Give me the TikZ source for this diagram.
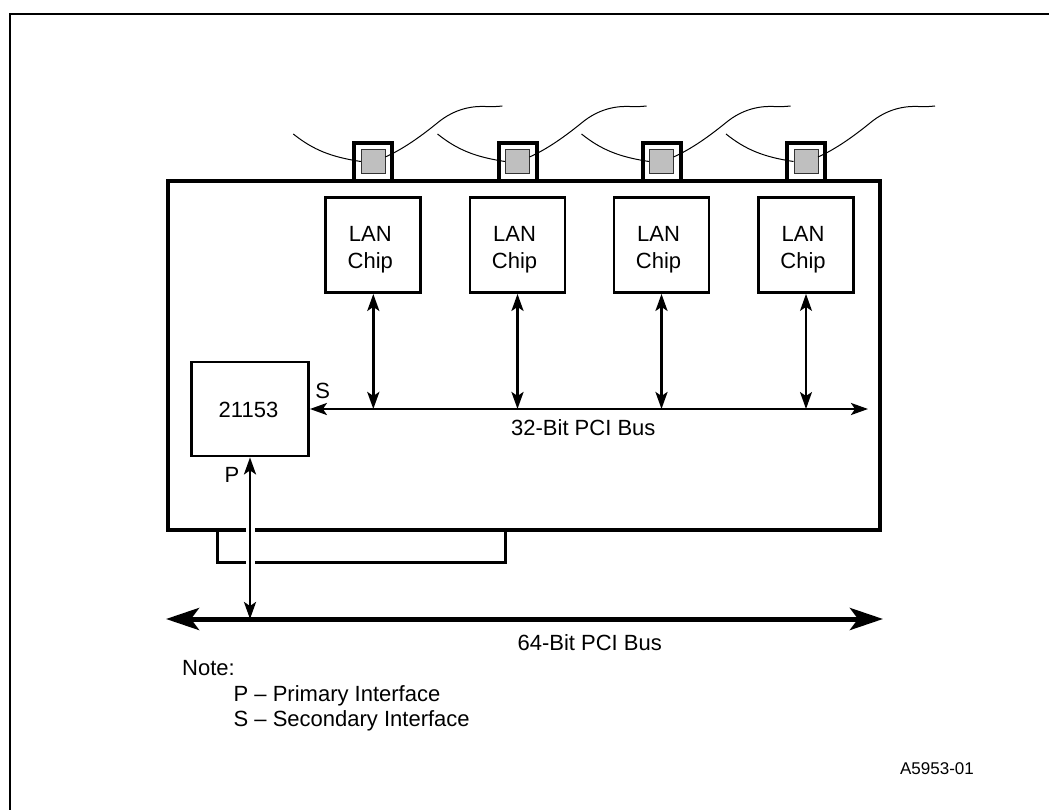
\documentclass[tikz,border=0pt]{standalone}
\usepackage{fontspec}
\setmainfont{Liberation Sans}
\usetikzlibrary{calc,arrows.meta}
\tikzset{
	lanchip/.style={draw,line width=2.8pt,minimum width=95pt,minimum height=95pt,inner sep=0pt},
	bridgechip/.style={draw,line width=2.8pt,minimum width=117pt,minimum height=94pt,inner sep=0pt},
	jack/.style={draw,line width=4pt,minimum width=38pt,minimum height=38pt,inner sep=0pt},
	plug/.style={draw=black!80,line width=1pt,fill=black!25,minimum width=24pt,minimum height=24pt,inner sep=0pt},
	cable/.style={line width=1pt},
	lbl/.style={font=\fontsize{22}{26.6}\selectfont,inner sep=0pt},
	thinbus/.style={<->,>={Stealth[length=17pt,width=12pt,inset=4pt]}},
	fatbus/.style={<->,>={Stealth[length=33pt,width=22pt,inset=8pt]},line width=5pt},
}
\begin{document}
\begin{tikzpicture}[x=1pt,y=-1pt]
	\useasboundingbox (0,0) rectangle (1049,810);
	
	\draw[line width=2pt] (10,810)--(10,14)--(1049,14);
	
	\coordinate (busR) at (868,409);
	\coordinate (pciL) at (166,619);
	\coordinate (pciR) at (883,619);
	
	\node[bridgechip] (bridge) at (250,409) {};
	\node[lbl] (bridgetxt) at (248.5,410) {21153};
	
	\foreach \x/\i/\w in {373.3/1/2.8,517.5/2/2.8,661.5/3/2.8,806/4/1.6}{
		\node[lanchip] (lan\i) at (\x,245) {};
		\node[lbl,align=center] (lantxt\i) at (\x-3,249.5) {LAN\\Chip};
		\node[jack] (jack\i) at (\x,162) {};
		\node[plug] (plug\i) at (\x,161.5) {};
		\coordinate (cableA\i) at (\x-80,134);
		\coordinate (cableB\i) at (\x+129,106);
		\draw[cable] (cableA\i) .. controls (\x-60,150) and (\x-42,157) .. (plug\i.west);
		\draw[cable] (\x+12,157) .. controls (\x+30,149) and (\x+48,136) .. (\x+64,123)
			.. controls (\x+82,108) and (\x+100,106) .. (\x+112,106.5)
			.. controls (\x+118,107) and (\x+124,106.5) .. (cableB\i);
		\draw[thinbus,line width=\w pt] (lan\i.south)--(lan\i.south |- busR);
	}
	
	\draw[thinbus,line width=2.6pt] (bridge.east)--(busR);
	
	% board with the gap for the primary bus
	\draw[line width=4pt,miter limit=10] (246,530)--(168,530)--(168,181)--(880,181)--(880,530)--(255,530);
	\draw[line width=3pt] (217,530)--(217,562)--(246,562);
	\draw[line width=3pt] (255,562)--(505,562)--(505,530);
	
	\draw[fatbus] (pciL)--(pciR);
	\draw[thinbus,line width=2.6pt] (bridge.south)--(bridge.south |- pciL);
	
	\node[lbl] (slabel) at (322.7,390.5) {S};
	\node[lbl] (plabel) at (232,475) {P};
	\node[lbl] (bus32) at (583.3,428) {32-Bit PCI Bus};
	\node[lbl] (bus64) at (589.7,642.5) {64-Bit PCI Bus};
	\node[lbl,anchor=base west] (note) at (182,675) {Note:};
	\node[lbl,anchor=base west] (noteP) at (233.5,701) {P – Primary Interface};
	\node[lbl,anchor=base west] (noteS) at (233.5,726) {S – Secondary Interface};
	\node[font=\fontsize{17}{20}\selectfont,inner sep=0pt] (figid) at (937,769) {A5953-01};
\end{tikzpicture}
\end{document}
